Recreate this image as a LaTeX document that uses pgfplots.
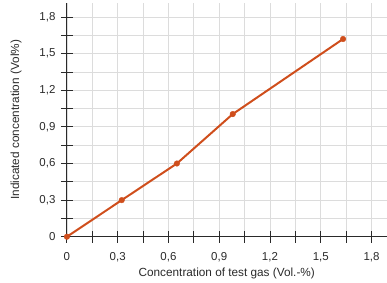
\documentclass[border=0pt]{standalone}
\usepackage{fontspec}
\setmainfont{Liberation Sans}
\usepackage{pgfplots}
\pgfplotsset{compat=1.18}
\definecolor{lineor}{HTML}{CF4E1C}
\definecolor{gridc}{HTML}{DCDCDC}
\definecolor{txt}{HTML}{2A2A2A}
\begin{document}
\begin{tikzpicture}
\begin{axis}[
  name=ax,
  scale only axis,
  width=320pt, height=234pt,
  xmin=0, xmax=1.889, ymin=0, ymax=1.915,
  axis lines=left,
  axis line style={-, line width=0.9pt, color=txt},
  xtick={0,0.3,0.6,0.9,1.2,1.5,1.8},
  ytick={0,0.3,0.6,0.9,1.2,1.5,1.8},
  minor xtick={0.15,0.45,0.75,1.05,1.35,1.65},
  minor ytick={0.15,0.45,0.75,1.05,1.35,1.65},
  tick align=center,
  major tick length=12pt, minor tick length=12pt,
  tick style={line width=0.9pt, color=txt},
  grid=both,
  major grid style={gridc, line width=0.8pt},
  minor grid style={gridc, line width=0.8pt},
  /pgf/number format/.cd, use comma, fixed, precision=1, assume math mode=true,
  /pgfplots/.cd,
  ticklabel style={font=\fontsize{11.5}{13}\selectfont, color=txt},
  xticklabel style={yshift=-6pt},
  yticklabel style={xshift=-2pt},
  xlabel={Concentration of test gas (Vol.-\%)},
  ylabel={Indicated concentration (Vol\%)},
  label style={font=\fontsize{11.8}{13}\selectfont, color=txt},
  xlabel style={at={(axis description cs:0.5,0)}, anchor=center, yshift=-37pt},
  ylabel style={at={(axis description cs:0,0.5)}, anchor=center, xshift=0pt, yshift=51pt},
  clip=false,
]
\addplot[color=lineor, line width=2pt, mark=*, mark size=2.8pt, mark options={fill=lineor, draw=lineor, line width=0.4pt}]
coordinates {(0,0) (0.324,0.30) (0.65,0.60) (0.98,1.005) (1.632,1.62)};
\end{axis}
\path[use as bounding box] ([xshift=-67pt,yshift=-46pt]ax.south west) rectangle ([yshift=3pt]ax.north east);
\end{tikzpicture}
\end{document}
